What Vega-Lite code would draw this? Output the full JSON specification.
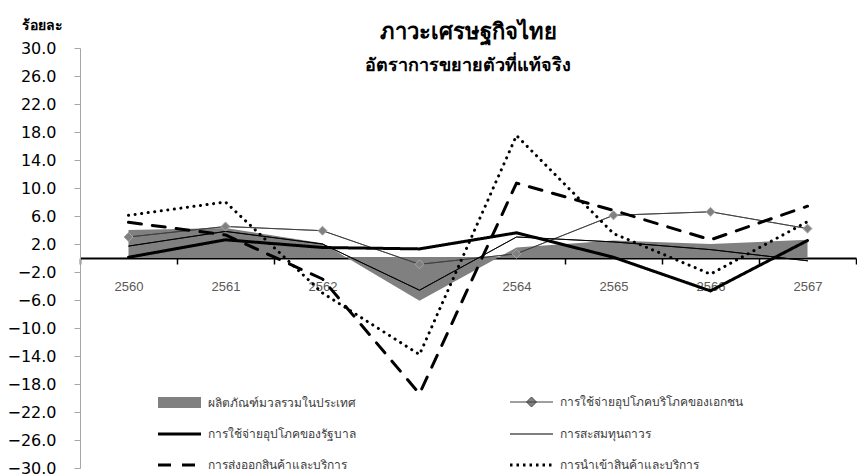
{
  "$schema": "https://vega.github.io/schema/vega-lite/v6.json",
  "width": 776,
  "height": 420,
  "autosize": {"type": "none"},
  "padding": {"left": 80, "top": 48, "right": 1, "bottom": 8},
  "background": "white",
  "title": {
    "text": "ภาวะเศรษฐกิจไทย",
    "subtitle": "อัตราการขยายตัวที่แท้จริง",
    "anchor": "middle",
    "frame": "group",
    "offset": -58,
    "fontSize": 22,
    "fontWeight": "bold",
    "color": "#000000",
    "subtitleFontSize": 18,
    "subtitleFontWeight": "bold",
    "subtitleColor": "#000000",
    "subtitlePadding": 13
  },
  "data": {
    "values": [
      {"year": "2560", "series": "ผลิตภัณฑ์มวลรวมในประเทศ", "value": 4.0},
      {"year": "2561", "series": "ผลิตภัณฑ์มวลรวมในประเทศ", "value": 4.3},
      {"year": "2562", "series": "ผลิตภัณฑ์มวลรวมในประเทศ", "value": 2.1},
      {"year": "2563", "series": "ผลิตภัณฑ์มวลรวมในประเทศ", "value": -6.1},
      {"year": "2564", "series": "ผลิตภัณฑ์มวลรวมในประเทศ", "value": 1.5},
      {"year": "2565", "series": "ผลิตภัณฑ์มวลรวมในประเทศ", "value": 2.5},
      {"year": "2566", "series": "ผลิตภัณฑ์มวลรวมในประเทศ", "value": 2.0},
      {"year": "2567", "series": "ผลิตภัณฑ์มวลรวมในประเทศ", "value": 2.6},
      {"year": "2560", "series": "การใช้จ่ายอุปโภคบริโภคของเอกชน", "value": 3.0},
      {"year": "2561", "series": "การใช้จ่ายอุปโภคบริโภคของเอกชน", "value": 4.5},
      {"year": "2562", "series": "การใช้จ่ายอุปโภคบริโภคของเอกชน", "value": 3.9},
      {"year": "2563", "series": "การใช้จ่ายอุปโภคบริโภคของเอกชน", "value": -0.9},
      {"year": "2564", "series": "การใช้จ่ายอุปโภคบริโภคของเอกชน", "value": 0.6},
      {"year": "2565", "series": "การใช้จ่ายอุปโภคบริโภคของเอกชน", "value": 6.1},
      {"year": "2566", "series": "การใช้จ่ายอุปโภคบริโภคของเอกชน", "value": 6.6},
      {"year": "2567", "series": "การใช้จ่ายอุปโภคบริโภคของเอกชน", "value": 4.2},
      {"year": "2560", "series": "การใช้จ่ายอุปโภคของรัฐบาล", "value": 0.1},
      {"year": "2561", "series": "การใช้จ่ายอุปโภคของรัฐบาล", "value": 2.6},
      {"year": "2562", "series": "การใช้จ่ายอุปโภคของรัฐบาล", "value": 1.5},
      {"year": "2563", "series": "การใช้จ่ายอุปโภคของรัฐบาล", "value": 1.3},
      {"year": "2564", "series": "การใช้จ่ายอุปโภคของรัฐบาล", "value": 3.6},
      {"year": "2565", "series": "การใช้จ่ายอุปโภคของรัฐบาล", "value": 0.1},
      {"year": "2566", "series": "การใช้จ่ายอุปโภคของรัฐบาล", "value": -4.7},
      {"year": "2567", "series": "การใช้จ่ายอุปโภคของรัฐบาล", "value": 2.5},
      {"year": "2560", "series": "การสะสมทุนถาวร", "value": 1.7},
      {"year": "2561", "series": "การสะสมทุนถาวร", "value": 3.8},
      {"year": "2562", "series": "การสะสมทุนถาวร", "value": 2.0},
      {"year": "2563", "series": "การสะสมทุนถาวร", "value": -4.6},
      {"year": "2564", "series": "การสะสมทุนถาวร", "value": 3.0},
      {"year": "2565", "series": "การสะสมทุนถาวร", "value": 2.3},
      {"year": "2566", "series": "การสะสมทุนถาวร", "value": 1.2},
      {"year": "2567", "series": "การสะสมทุนถาวร", "value": -0.4},
      {"year": "2560", "series": "การส่งออกสินค้าและบริการ", "value": 5.1},
      {"year": "2561", "series": "การส่งออกสินค้าและบริการ", "value": 3.3},
      {"year": "2562", "series": "การส่งออกสินค้าและบริการ", "value": -3.0},
      {"year": "2563", "series": "การส่งออกสินค้าและบริการ", "value": -19.4},
      {"year": "2564", "series": "การส่งออกสินค้าและบริการ", "value": 10.7},
      {"year": "2565", "series": "การส่งออกสินค้าและบริการ", "value": 6.8},
      {"year": "2566", "series": "การส่งออกสินค้าและบริการ", "value": 2.6},
      {"year": "2567", "series": "การส่งออกสินค้าและบริการ", "value": 7.4},
      {"year": "2560", "series": "การนำเข้าสินค้าและบริการ", "value": 6.1},
      {"year": "2561", "series": "การนำเข้าสินค้าและบริการ", "value": 8.0},
      {"year": "2562", "series": "การนำเข้าสินค้าและบริการ", "value": -5.0},
      {"year": "2563", "series": "การนำเข้าสินค้าและบริการ", "value": -13.8},
      {"year": "2564", "series": "การนำเข้าสินค้าและบริการ", "value": 17.5},
      {"year": "2565", "series": "การนำเข้าสินค้าและบริการ", "value": 3.5},
      {"year": "2566", "series": "การนำเข้าสินค้าและบริการ", "value": -2.3},
      {"year": "2567", "series": "การนำเข้าสินค้าและบริการ", "value": 5.2}
    ]
  },
  "encoding": {
    "x": {
      "field": "year",
      "type": "ordinal",
      "bandPosition": 0.5,
      "scale": {"type": "band", "paddingInner": 0, "paddingOuter": 0},
      "axis": {
        "title": null,
        "orient": "bottom",
        "offset": -210,
        "tickBand": "extent",
        "domainColor": "#000000",
        "domainWidth": 2,
        "tickColor": "#000000",
        "tickWidth": 1.5,
        "tickSize": 6,
        "labelPadding": 16,
        "labelAngle": 0,
        "labelFont": "Liberation Sans",
        "labelFontSize": 13,
        "labelColor": "#595959",
        "grid": false
      }
    },
    "y": {
      "field": "value",
      "type": "quantitative",
      "scale": {"domain": [-30, 30], "nice": false, "zero": false},
      "axis": {
        "values": [-30, -26, -22, -18, -14, -10, -6, -2, 2, 6, 10, 14, 18, 22, 26, 30],
        "format": ".1f",
        "grid": false,
        "domainColor": "#a6a6a6",
        "tickColor": "#a6a6a6",
        "tickSize": 6,
        "labelPadding": 18,
        "labelFont": "DejaVu Sans",
        "labelFontSize": 16,
        "labelColor": "#000000",
        "title": "ร้อยละ",
        "titleAngle": 0,
        "titleX": -38,
        "titleY": -23,
        "titleAlign": "center",
        "titleBaseline": "middle",
        "titleFontSize": 14,
        "titleFontWeight": "bold",
        "titleColor": "#000000"
      }
    }
  },
  "layer": [
    {
      "transform": [{"filter": "datum.series === 'ผลิตภัณฑ์มวลรวมในประเทศ'"}],
      "mark": {"type": "area", "opacity": 1},
      "encoding": {
        "fill": {
          "field": "series",
          "type": "nominal",
          "scale": {
            "domain": ["ผลิตภัณฑ์มวลรวมในประเทศ", "การใช้จ่ายอุปโภคของรัฐบาล", "การส่งออกสินค้าและบริการ", "การใช้จ่ายอุปโภคบริโภคของเอกชน", "การสะสมทุนถาวร", "การนำเข้าสินค้าและบริการ"],
            "range": ["#808080", "#000000", "#000000", "#808080", "#000000", "#000000"]
          },
          "legend": {
            "orient": "none",
            "legendX": 78,
            "legendY": 348,
            "title": null,
            "columns": 2,
            "columnPadding": 148,
            "padding": 0,
            "symbolSize": 64,
            "symbolOffset": 0,
            "symbolStrokeWidth": 3,
            "labelOffset": 38,
            "rowPadding": 19,
            "labelFontSize": 12,
            "labelLimit": 400,
            "labelColor": "#404040",
            "symbolOpacity": 1,
            "encode": {
              "symbols": {
                "update": {
                  "shape": {"signal": "(datum.value === 'ผลิตภัณฑ์มวลรวมในประเทศ' ? 'M-1.5,-1.375H9.25V1.375H-1.5Z' : datum.value === 'การใช้จ่ายอุปโภคบริโภคของเอกชน' ? 'M-1.5,0H9.25M2.625,0L3.875,-1.25L5.125,0L3.875,1.25Z' : 'M-1.5,0H9.25')"},
                  "size": {"value": 64},
                  "stroke": {"signal": "(datum.value === 'ผลิตภัณฑ์มวลรวมในประเทศ' ? 'transparent' : datum.value === 'การใช้จ่ายอุปโภคบริโภคของเอกชน' ? '#404040' : '#000000')"},
                  "strokeWidth": {"signal": "(datum.value === 'ผลิตภัณฑ์มวลรวมในประเทศ' ? 0 : (datum.value === 'การใช้จ่ายอุปโภคบริโภคของเอกชน' || datum.value === 'การสะสมทุนถาวร') ? 1 : 3)"},
                  "strokeDash": {"signal": "(datum.value === 'การส่งออกสินค้าและบริการ' ? [13, 11] : datum.value === 'การนำเข้าสินค้าและบริการ' ? [2.5, 4] : [1, 0])"},
                  "opacity": {"value": 1}
                }
              }
            }
          }
        }
      }
    },
    {
      "transform": [{"filter": "datum.series !== 'ผลิตภัณฑ์มวลรวมในประเทศ'"}],
      "mark": {"type": "line", "strokeCap": "round", "strokeJoin": "round"},
      "encoding": {
        "detail": {"field": "series", "type": "nominal"},
        "stroke": {
          "condition": {"test": "datum.series === 'การใช้จ่ายอุปโภคบริโภคของเอกชน'", "value": "#404040"},
          "value": "#000000"
        },
        "strokeDash": {
          "field": "series",
          "type": "nominal",
          "scale": {
            "domain": ["การใช้จ่ายอุปโภคบริโภคของเอกชน", "การใช้จ่ายอุปโภคของรัฐบาล", "การสะสมทุนถาวร", "การส่งออกสินค้าและบริการ", "การนำเข้าสินค้าและบริการ"],
            "range": [[1, 0], [1, 0], [1, 0], [13, 11], [0.1, 6.5]]
          },
          "legend": null
        },
        "strokeWidth": {
          "condition": {"test": "datum.series === 'การใช้จ่ายอุปโภคบริโภคของเอกชน' || datum.series === 'การสะสมทุนถาวร'", "value": 1},
          "value": 3
        }
      }
    },
    {
      "transform": [{"filter": "datum.series === 'การใช้จ่ายอุปโภคบริโภคของเอกชน'"}],
      "mark": {"type": "point", "shape": "diamond", "filled": true, "size": 80, "fill": "#808080", "stroke": "#a6a6a6", "strokeWidth": 1, "opacity": 1}
    }
  ],
  "config": {
    "view": {"stroke": null},
    "font": "Noto Sans",
    "legend": {"labelFont": "Noto Sans"}
  }
}
